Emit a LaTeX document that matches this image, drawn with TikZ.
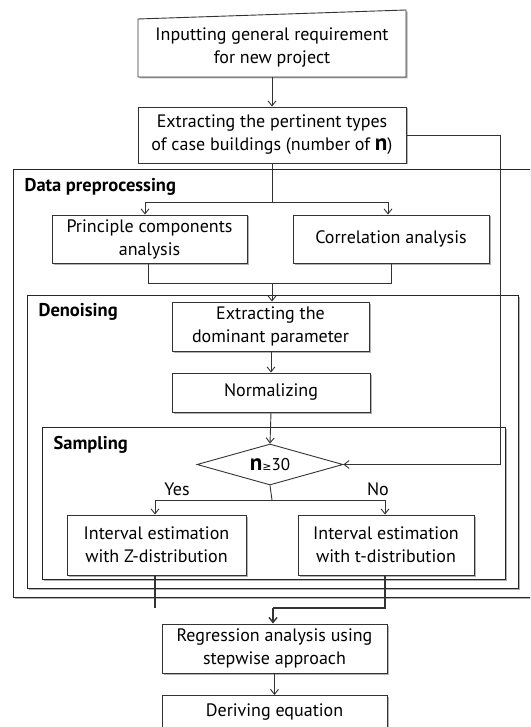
\documentclass[tikz,border=0pt]{standalone}
\usepackage{fontspec}
\setmainfont{PT Sans}
\newfontfamily\symfont{DejaVu Sans}
\usetikzlibrary{arrows.meta,shapes.geometric,shadows}
\begin{document}
\begin{tikzpicture}[x=1pt,y=-1pt,
  line/.style={draw=black!80,line width=0.9pt},
  arr/.style={line,-{Straight Barb[length=5pt,width=8pt]}},
  shd/.style={drop shadow={shadow xshift=1.5pt,shadow yshift=-1.5pt,opacity=0.5,fill=black!60}},
  proc/.style={draw=black!80,line width=0.9pt,fill=white,shd,align=center,inner sep=1pt,font=\fontsize{18}{23}\selectfont},
  cont/.style={draw=black!85,line width=1pt,fill=white,shd},
  ttl/.style={anchor=west,font=\bfseries\fontsize{18.5}{20}\selectfont},
  lbl/.style={font=\fontsize{18}{20}\selectfont}
]
\useasboundingbox (0,0) rectangle (530,727);
\clip (0,0) rectangle (530,727);
\fill[white] (0,0) rectangle (530,727);

% containers
\draw[cont] (13,170) rectangle (545,597);
\node[ttl] (tdp) at (21,187) {Data preprocessing};
\draw[cont] (27,295) rectangle (518,588);
\node[ttl] (tdn) at (35,312) {Denoising};
\draw[cont] (42,427) rectangle (505,579);
\node[ttl] (tsm) at (50,445) {Sampling};

% manual input box
\fill[black!60,opacity=0.5] (139.5,20.5) -- (407.5,11.5) -- (407.5,78.5) -- (139.5,78.5) -- cycle;
\filldraw[line,fill=white] (138,19) -- (406,10) -- (406,77) -- (138,77) -- cycle;
\node[align=center,font=\fontsize{18}{23}\selectfont,minimum width=268pt,minimum height=58pt,inner sep=0pt] (in1) at (272,48) {Inputting general requirement\\for new project};

\node[proc,minimum width=268pt,minimum height=56pt] (b2) at (272,135) {Extracting the pertinent types\\of case buildings (number of {\bfseries\fontsize{23}{23}\selectfont n})};
\node[proc,minimum width=195pt,minimum height=48pt] (pca) at (149.5,239) {Principle components\\analysis};
\node[proc,minimum width=196pt,minimum height=48pt] (cor) at (391,239) {Correlation analysis};
\node[proc,minimum width=197pt,minimum height=49pt] (dom) at (270.5,326.5) {Extracting the\\dominant parameter};
\node[proc,minimum width=198pt,minimum height=39pt] (nor) at (271,392.5) {Normalizing};
\node[draw=black!80,line width=0.9pt,fill=white,diamond,aspect=3.6,minimum width=146pt,minimum height=41pt,inner sep=0pt] (dia) at (270,464.5) {{\bfseries\fontsize{23}{23}\selectfont n}{\symfont\fontsize{11}{12}\selectfont≥}{\fontsize{17}{18}\selectfont 30}};
\node[proc,minimum width=179pt,minimum height=60pt] (zb) at (156.5,545) {Interval estimation\\with Z-distribution};
\node[proc,minimum width=176pt,minimum height=60pt] (tb) at (386,545) {Interval estimation\\with t-distribution};
\node[proc,minimum width=225pt,minimum height=49pt] (reg) at (274.5,648.5) {Regression analysis using\\stepwise approach};
\node[proc,minimum width=225pt,minimum height=34pt,anchor=north] (der) at (274.5,695) {Deriving equation};

\node[lbl] (yes) at (177,489) {Yes};
\node[lbl] (no) at (378,489) {No};

% connectors
\draw[arr] (in1.south) -- (b2.north);
\draw[arr] (b2.east) -- (500,135) |- (dia.east);

\coordinate (j1) at (272,202);
\draw[line] (b2.south) -- (j1);
\draw[arr] (j1) -| ([xshift=-4.5pt]pca.north);
\draw[arr] (j1) -| ([xshift=-3pt]cor.north);

\coordinate (j2) at (272,283);
\draw[line] ([xshift=-1.5pt]pca.south) |- (j2);
\draw[line] (cor.south) |- (j2);
\draw[arr] (j2) -- (dom.north -| j2);

\draw[arr] (dom.south -| nor.north) -- (nor.north);
\draw[arr] (nor.south) -- (dia.north);

\coordinate (j3) at (272,500);
\draw[line] (dia.south) -- (j3);
\draw[arr] (j3) -| ([xshift=-1.5pt]zb.north);
\draw[arr] (j3) -| ([xshift=-1pt]tb.north);

\coordinate (zend) at (155,608);
\draw[line,line width=1.4pt] ([xshift=-1.5pt]zb.south) -- (zend);
\coordinate (j4) at (273,608);
\draw[line,line width=1.4pt] ([xshift=-1pt]tb.south) |- (j4);
\draw[arr,line width=1.4pt] (j4) -- (reg.north -| j4);
\draw[arr] (reg.south) -- (der.north);
\end{tikzpicture}
\end{document}
